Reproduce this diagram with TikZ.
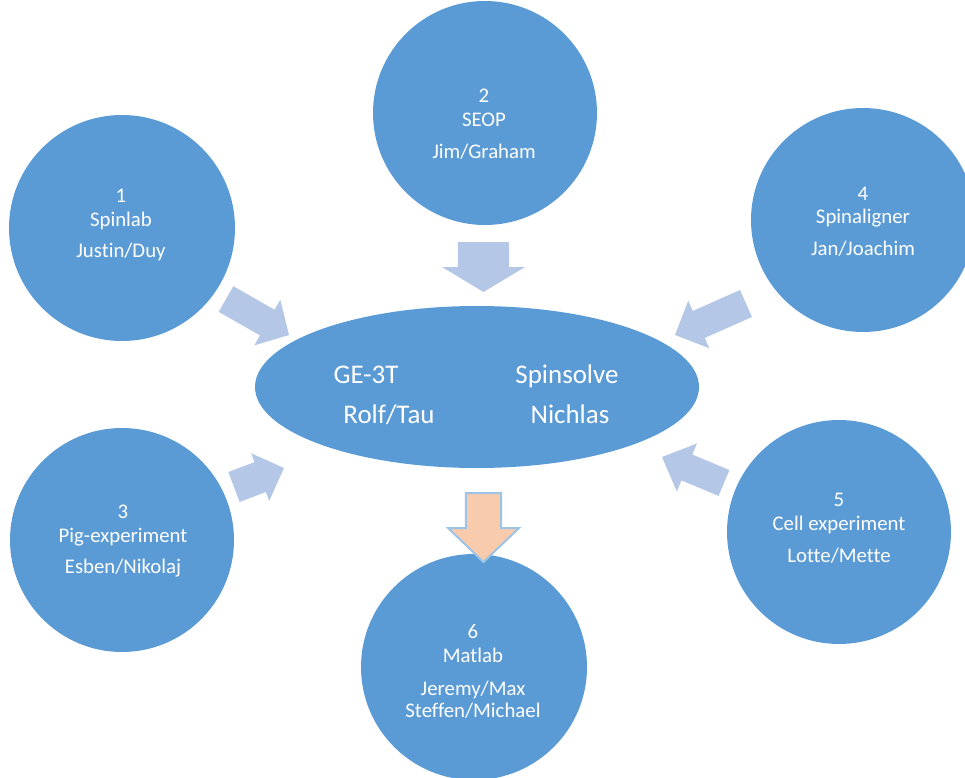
\documentclass[tikz,border=0pt]{standalone}
\usepackage{fontspec}
\setmainfont{Carlito}[Ligatures=NoCommon]
\usetikzlibrary{shapes.geometric,calc}
\definecolor{cblue}{HTML}{5B9BD5}
\definecolor{alight}{HTML}{B4C7E7}
\definecolor{peach}{HTML}{F8CBAD}
\definecolor{pborder}{HTML}{9DC3E6}
\newcommand{\blkarrow}[6]{%
  \coordinate (hb) at ($(#3)!#6!(#2)$);
  \path[#1] ($(#2)!#4!90:(#3)$) -- ($(hb)!#4!90:(#3)$) -- ($(hb)!#5!90:(#3)$) -- (#3)
    -- ($(hb)!#5!-90:(#3)$) -- ($(hb)!#4!-90:(#3)$) -- ($(#2)!#4!-90:(#3)$) -- cycle;}
\tikzset{
  bubble/.style={circle, fill=cblue, draw=none, inner sep=0pt, minimum size=#1},
  txt/.style={text=white, anchor=base, font=\fontsize{15.6}{18}\selectfont, inner sep=0pt},
  bigtxt/.style={text=white, anchor=base, font=\fontsize{20.2}{23}\selectfont, inner sep=0pt},
  lightarrow/.style={fill=alight},
  peacharrow/.style={fill=peach, draw=pborder, line width=1.5pt, line join=miter}
}
\begin{document}
\begin{tikzpicture}[x=0.75pt,y=-0.75pt]
\useasboundingbox (0,0) rectangle (965,778);
\clip (0,0) rectangle (965,778);
% circles
\node[bubble=169.5pt] (c1) at (122,228) {};
\node[bubble=168pt] (c2) at (485,113) {};
\node[bubble=168pt] (c4) at (863,220) {};
\node[bubble=168pt] (c3) at (122,540) {};
\node[bubble=168pt] (c5) at (839,532) {};
\node[bubble=169.5pt] (c6) at (474,667) {};
\node[ellipse, fill=cblue, draw=none, inner sep=0pt, minimum width=333pt, minimum height=121.5pt] (e) at (477,387) {};
% texts
\node[txt] (t1a) at (121,202) {1};
\node[txt] (t1b) at (121,226) {Spinlab};
\node[txt] (t1c) at (121,257) {Justin/Duy};
\node[txt] (t2a) at (484,102) {2};
\node[txt] (t2b) at (484,126) {SEOP};
\node[txt] (t2c) at (484,158) {Jim/Graham};
\node[txt] (t4a) at (863,200) {4};
\node[txt] (t4b) at (863,223) {Spinaligner};
\node[txt] (t4c) at (863,255) {Jan/Joachim};
\node[txt] (t3a) at (123,518) {3};
\node[txt] (t3b) at (123,542) {Pig-experiment};
\node[txt] (t3c) at (123,573) {Esben/Nikolaj};
\node[txt] (t5a) at (839,506) {5};
\node[txt] (t5b) at (839,530) {Cell experiment};
\node[txt] (t5c) at (839,562) {Lotte/Mette};
\node[txt] (t6a) at (473,638) {6};
\node[txt] (t6b) at (473,662) {Matlab};
\node[txt] (t6c) at (473,695) {Jeremy/Max};
\node[txt] (t6d) at (473,717) {Steffen/Michael};
\node[bigtxt] (ea) at (366,383) {GE-3T};
\node[bigtxt] (eb) at (389,423) {Rolf/Tau};
\node[bigtxt] (ec) at (567,383) {Spinsolve};
\node[bigtxt] (ed) at (570,423) {Nichlas};
% arrows
\coordinate (a1t) at (226,299); \coordinate (a1h) at (289,335);
\coordinate (a2t) at (483.5,242); \coordinate (a2h) at (483.5,292);
\coordinate (a3t) at (234,487); \coordinate (a3h) at (284,468);
\coordinate (a4t) at (746,303.5); \coordinate (a4h) at (675,335);
\coordinate (a5t) at (724,483); \coordinate (a5h) at (662,457);
\coordinate (a6t) at (483.5,493); \coordinate (a6h) at (483.5,562);
\blkarrow{lightarrow}{a1t}{a1h}{11.06pt}{19.69pt}{18.75pt}
\blkarrow{lightarrow}{a2t}{a2h}{19.13pt}{31.13pt}{18.75pt}
\blkarrow{lightarrow}{a3t}{a3h}{12pt}{19.13pt}{19.13pt}
\blkarrow{lightarrow}{a4t}{a4h}{11.06pt}{19.5pt}{19.5pt}
\blkarrow{lightarrow}{a5t}{a5h}{10.5pt}{19.5pt}{20.25pt}
\blkarrow{peacharrow}{a6t}{a6h}{13.13pt}{26.63pt}{25.5pt}
\end{tikzpicture}
\end{document}
